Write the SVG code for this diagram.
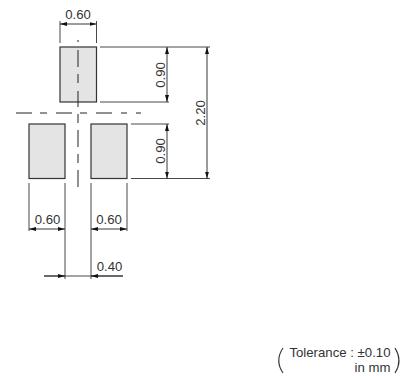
<svg xmlns="http://www.w3.org/2000/svg" width="413" height="376" viewBox="0 0 413 376">
<defs>
<marker id="a" markerUnits="userSpaceOnUse" markerWidth="7" markerHeight="4" refX="7" refY="2" orient="auto-start-reverse"><path d="M0 0L7 2L0 4Z" fill="#111"/></marker>
</defs>
<style>
.pad{fill:#e4e4e4;stroke:#333;stroke-width:1.2}
.l{fill:none;stroke:#333;stroke-width:.9}
.d{fill:none;stroke:#222;stroke-width:.9;marker-start:url(#a);marker-end:url(#a)}
.o{fill:none;stroke:#222;stroke-width:.9;marker-end:url(#a)}
.c{fill:none;stroke:#222;stroke-width:1}
text{font-family:"Liberation Sans",Arial,sans-serif;font-size:13.2px;fill:#333}
</style>
<rect width="413" height="376" fill="#fff"/>
<g id="pad-top"><rect class="pad" x="60" y="47" width="36.5" height="55"/></g>
<g id="pad-left"><rect class="pad" x="29" y="124" width="36" height="54.5"/></g>
<g id="pad-right"><rect class="pad" x="91" y="124" width="36" height="54.5"/></g>
<g id="connectors">
<path class="c" d="M78 40V42M78 50V67M78 74V83M78 91V107M78 114V123M78 130V147M78 154V163M78 170V187"/>
<path class="c" d="M16 113H32M40 113H47M56 113H72M80 113H87M96 113H112M121 113H127M136 113H141"/>
<path class="l" d="M60 21V43M96.500 21V43M100 47H210M100 102H169M131 124H169M131 178.500H210M29 183V231M65 183V279M91 183V279M127 183V231M44 276H123"/>
<path class="d" d="M60 24H96.500"/>
<path class="d" d="M167 47V102"/>
<path class="d" d="M167 124V178.500"/>
<path class="d" d="M207 47V178.500"/>
<path class="d" d="M29 229H65"/>
<path class="d" d="M91 229H127"/>
<path class="o" d="M44 276H65"/>
<path class="o" d="M123 276H91"/>
</g>
<g id="labels">
<text x="78" y="19" text-anchor="middle">0.60</text>
<text transform="translate(165 75) rotate(-90)" text-anchor="middle">0.90</text>
<text transform="translate(165 151) rotate(-90)" text-anchor="middle">0.90</text>
<text transform="translate(205 113) rotate(-90)" text-anchor="middle">2.20</text>
<text x="47.500" y="224" text-anchor="middle">0.60</text>
<text x="109" y="224" text-anchor="middle">0.60</text>
<text x="109.500" y="271" text-anchor="middle">0.40</text>
<text x="390.500" y="357" text-anchor="end">Tolerance : ±0.10</text>
<text x="390.500" y="372" text-anchor="end">in mm</text>
<path class="l" d="M283 348Q274.500 360.500 283 373M395 348Q403 360.500 395 373" style="stroke-width:1.1"/>
</g>
</svg>
